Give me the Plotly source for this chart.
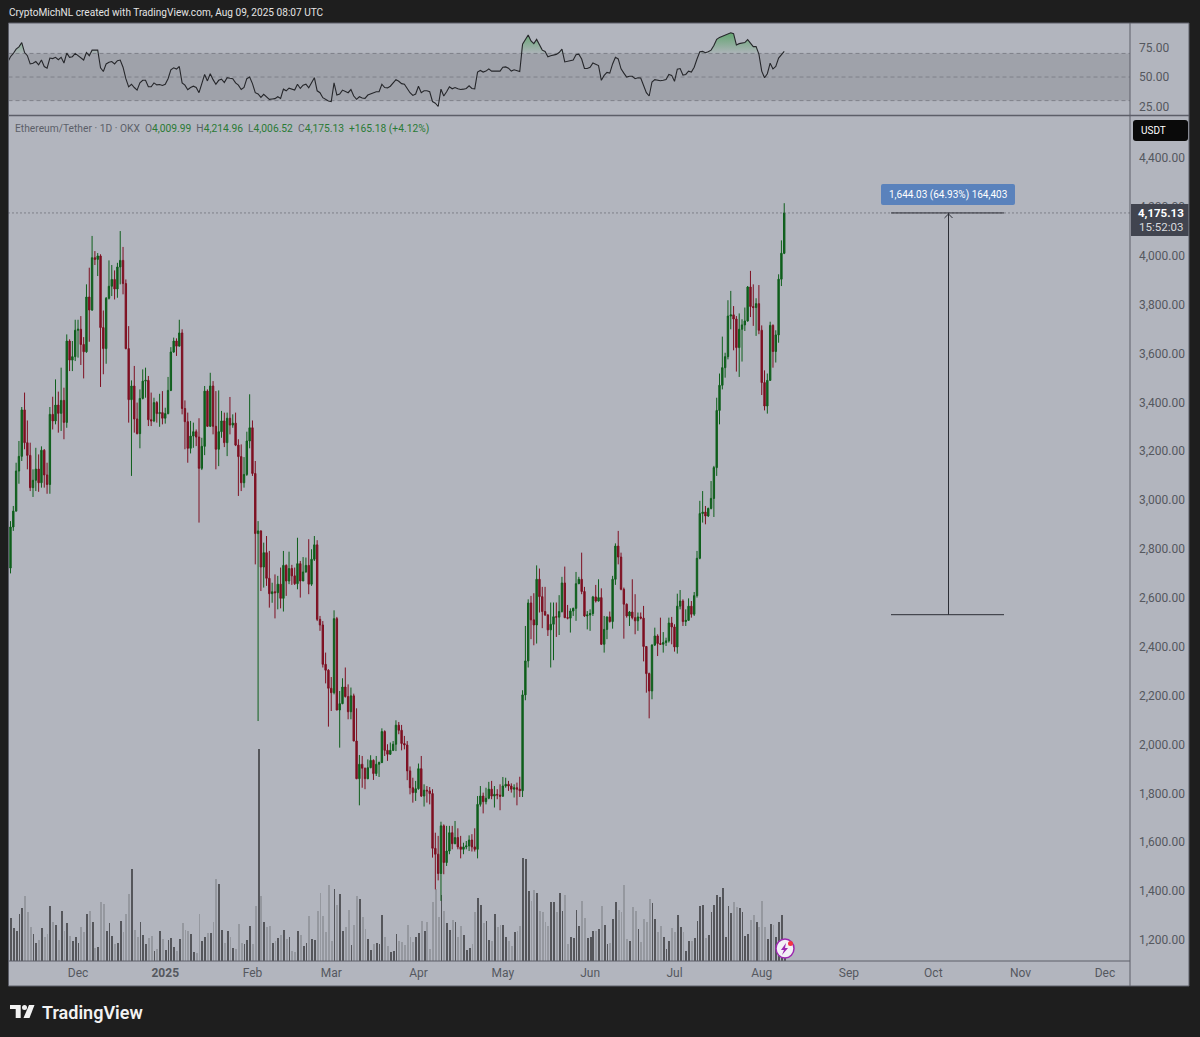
import numpy as np
import pandas as pd
import plotly.graph_objects as go

first_open = 2420

# daily closes, Nov 6 2024 to Aug 9 2025
closes = [2722,
    2890, 2955, 3119, 3179, 3369, 3235, 3183, 3051, 3081, 3127, 3071, 3204, 3103, 3064, 3351, 3324, 3389, 3355, 3408, 3318,
    3651, 3573, 3587, 3695,  # Dec 1 follows
    3699, 3637, 3607, 3831, 3778, 3992, 3985, 3999, 3706, 3620, 3826, 3875, 3903, 3864, 3954, 3981, 3886, 3620, 3411, 3467,
    3332, 3272, 3416, 3487, 3490, 3329, 3324, 3399, 3354, 3358, 3335,
    3354, 3449, 3606, 3651, 3630, 3684, 3375, 3321, 3212, 3262, 3280, 3258, 3130, 3220, 3446, 3302, 3467, 3302, 3208, 3280,
    3324, 3235, 3335, 3307, 3315, 3225, 3178, 3071, 3105, 3242, 3296,
    3109, 2863, 2874, 2726, 2785, 2680, 2617, 2625, 2621, 2656, 2598, 2733, 2669, 2720, 2690, 2658, 2740, 2669, 2706, 2733,
    2656, 2758, 2817, 2512, 2489, 2328, 2304, 2230,
    2212, 2515, 2141, 2167, 2235, 2196, 2134, 2199, 2014, 1860, 1919, 1903, 1860, 1905, 1935, 1881, 1919, 1926, 2053, 1976,
    1960, 1976, 2001, 2079, 2058, 2004, 1998, 1892, 1823, 1803, 1819,
    1901, 1789, 1813, 1810, 1799, 1575, 1551, 1472, 1667, 1517, 1564, 1639, 1594, 1619, 1581, 1571, 1581, 1585, 1609, 1581,
    1571, 1755, 1789, 1766, 1780, 1817, 1789, 1796, 1793, 1788,
    1830, 1837, 1830, 1817, 1823, 1817, 1811, 2203, 2342, 2579, 2510, 2489, 2676, 2605, 2544, 2530, 2469, 2492, 2523, 2521,
    2544, 2661, 2519, 2517, 2546, 2557, 2658, 2676, 2626, 2526, 2530,
    2536, 2604, 2587, 2601, 2410, 2471, 2522, 2503, 2676, 2812, 2767, 2635, 2574, 2526, 2542, 2519, 2506, 2522, 2517, 2401,
    2290, 2219, 2407, 2444, 2413, 2410, 2417, 2424, 2497, 2481,
    2399, 2566, 2587, 2503, 2508, 2566, 2533, 2609, 2762, 2945, 2951, 2935, 2966, 3007, 3133, 3367, 3470, 3542, 3587, 3753,
    3758, 3741, 3624, 3699, 3717, 3733, 3872, 3792, 3788, 3804, 3695,
    3481, 3385, 3490, 3715, 3608, 3676, 3904, 4009.99, 4175.13]

highs = [2760,
    2914, 2976, 3153, 3242, 3381, 3440, 3326, 3235, 3126, 3214, 3187, 3220, 3209, 3153, 3381, 3423, 3494, 3444, 3542, 3460,
    3678, 3658, 3651, 3738,
    3738, 3753, 3667, 3883, 3951, 4081, 4019, 4011, 4006, 3776, 3831, 3981, 3962, 3940, 3971, 4101, 4036, 3903, 3712, 3490,
    3549, 3399, 3453, 3535, 3542, 3508, 3440, 3419, 3405, 3435, 3446,
    3378, 3504, 3626, 3665, 3662, 3738, 3699, 3408, 3358, 3324, 3317, 3289, 3335, 3255, 3467, 3453, 3521, 3487, 3446, 3449,
    3365, 3358, 3358, 3422, 3351, 3358, 3249, 3228, 3176, 3280, 3433,
    3326, 3160, 2914, 2876, 2826, 2853, 2792, 2662, 2696, 2690, 2724, 2792, 2737, 2789, 2735, 2724, 2846, 2751, 2767, 2765,
    2840, 2799, 2853, 2836, 2526, 2505, 2376, 2308,
    2276, 2549, 2522, 2219, 2271, 2315, 2246, 2233, 2208, 2148, 1957, 1953, 1905, 1939, 1956, 1939, 1953, 1930, 2066, 2058,
    2001, 2008, 2014, 2099, 2092, 2080, 2035, 2014, 1910, 1864, 1851,
    1922, 1953, 1837, 1830, 1826, 1817, 1639, 1626, 1684, 1673, 1667, 1667, 1667, 1687, 1657, 1626, 1598, 1605, 1628, 1633,
    1657, 1789, 1830, 1803, 1823, 1847, 1851, 1830, 1817, 1837,
    1867, 1864, 1851, 1841, 1837, 1844, 1868, 2222, 2485, 2594, 2608, 2619, 2733, 2720, 2645, 2645, 2533, 2581, 2581, 2581,
    2611, 2686, 2728, 2571, 2557, 2560, 2706, 2686, 2785, 2645, 2546,
    2553, 2608, 2653, 2676, 2639, 2526, 2523, 2544, 2690, 2823, 2874, 2785, 2642, 2577, 2546, 2676, 2615, 2540, 2540, 2567,
    2403, 2294, 2410, 2478, 2451, 2519, 2460, 2437, 2519, 2522,
    2492, 2617, 2632, 2594, 2553, 2598, 2587, 2624, 2792, 2997, 3037, 2976, 2969, 3078, 3140, 3419, 3518, 3669, 3603, 3818,
    3856, 3794, 3753, 3764, 3740, 3788, 3876, 3938, 3883, 3826, 3880,
    3715, 3531, 3518, 3730, 3719, 3695, 3924, 4063, 4214.96]

lows = [2405,
    2700, 2874, 2953, 3067, 3160, 3208, 3126, 3037, 3013, 3037, 3034, 3051, 3051, 3026, 3026, 3289, 3310, 3276, 3283, 3249,
    3296, 3528, 3528, 3569,
    3583, 3553, 3498, 3603, 3648, 3774, 3962, 3917, 3463, 3515, 3558, 3821, 3835, 3821, 3828, 3883, 3842, 3617, 3317, 3099,
    3276, 3269, 3212, 3412, 3419, 3303, 3303, 3319, 3317, 3300, 3310,
    3313, 3351, 3446, 3603, 3590, 3630, 3351, 3208, 3153, 3191, 3214, 3221, 2908, 3123, 3184, 3299, 3299, 3269, 3126, 3139,
    3255, 3217, 3180, 3269, 3296, 3221, 3017, 3037, 3051, 3099, 3212,
    3099, 2737, 2096, 2628, 2642, 2649, 2560, 2580, 2516, 2553, 2557, 2544, 2608, 2656, 2653, 2653, 2635, 2601, 2683, 2703,
    2615, 2649, 2751, 2505, 2465, 2315, 2250, 2073,
    2137, 2205, 2140, 1987, 2165, 2192, 2103, 2103, 2014, 1858, 1751, 1823, 1817, 1858, 1903, 1855, 1871, 1867, 1924, 1953,
    1933, 1957, 1973, 1973, 2042, 1976, 1980, 1854, 1796, 1762, 1769,
    1815, 1785, 1746, 1762, 1755, 1537, 1407, 1444, 1360, 1469, 1503, 1551, 1571, 1592, 1571, 1534, 1551, 1571, 1564, 1562,
    1562, 1534, 1746, 1718, 1755, 1776, 1776, 1742, 1776, 1731,
    1787, 1823, 1810, 1803, 1783, 1751, 1785, 1785, 2181, 2315, 2431, 2406, 2413, 2540, 2476, 2526, 2444, 2315, 2345, 2440,
    2448, 2540, 2517, 2512, 2458, 2526, 2506, 2656, 2615, 2522, 2471,
    2465, 2526, 2581, 2585, 2407, 2376, 2431, 2499, 2474, 2653, 2737, 2631, 2433, 2519, 2485, 2512, 2451, 2465, 2512, 2340,
    2212, 2107, 2185, 2403, 2362, 2407, 2376, 2403, 2417, 2410,
    2380, 2372, 2553, 2485, 2485, 2506, 2519, 2526, 2601, 2758, 2908, 2901, 2931, 2962, 2931, 3099, 3310, 3453, 3501, 3576,
    3699, 3613, 3526, 3504, 3567, 3692, 3730, 3749, 3713, 3672, 3679,
    3430, 3367, 3354, 3488, 3542, 3563, 3644, 3876, 4006.52]

# volume, no scale shown on the chart so these are relative units
volumes = [150,
    128, 98, 89, 140, 159, 196, 147, 101, 80, 55, 63, 98, 73, 80, 166, 116, 108, 63, 151, 90,
    113, 75, 60, 71, 53, 101, 87, 140, 150, 116, 40, 42, 176, 170, 90, 113, 75, 51, 55, 119,
    86, 140, 201, 276, 93, 73, 116, 78, 51, 70, 75, 30, 35, 89, 65, 33, 63, 68, 43, 30,
    65, 113, 93, 90, 80, 28, 23, 140, 60, 73, 83, 83, 116, 246, 232, 93, 55, 89, 73, 38,
    35, 110, 53, 50, 63, 106, 50, 164, 636, 196, 116, 101, 104, 55, 60, 70, 78, 93, 66, 73,
    30, 28, 90, 78, 45, 53, 136, 65, 63, 151, 203, 136, 86, 229, 60, 215, 168, 201, 89, 101,
    153, 48, 108, 196, 186, 133, 95, 65, 33, 51, 55, 50, 138, 71, 45, 28, 30, 80, 60,
    58, 48, 108, 71, 56, 73, 83, 119, 90, 116, 36, 176, 215, 131, 199, 149, 113, 93, 123, 116,
    73, 106, 78, 33, 38, 50, 146, 189, 169, 113, 121, 63, 60, 141, 101, 108, 108, 73, 60, 45,
    86, 90, 104, 308, 305, 209, 179, 212, 203, 151, 146, 116, 104, 176, 176, 146, 203, 151, 199, 50,
    71, 68, 153, 106, 181, 128, 68, 71, 90, 90, 95, 166, 108, 50, 53, 125, 176, 153, 146, 229,
    65, 60, 161, 149, 95, 56, 125, 116, 186, 174, 125, 88, 106, 73, 36, 60, 98, 88, 138, 101,
    86, 30, 60, 60, 68, 121, 166, 169, 68, 78, 146, 169, 199, 191, 219, 71, 164, 144, 176, 161,
    158, 146, 75, 80, 123, 138, 116, 101, 179, 101, 65, 110, 108, 71, 116, 138, 40]

rsi_values = [
    62.5, 67.2, 70, 73.6, 75.6, 79.2, 70.8, 68.1, 61.1, 61.7, 63.1, 60.3, 64.4, 58.9, 57.5, 66.1, 65.6, 66.7, 64.7, 66.7,
    61.9, 70.3, 66.7, 67.2, 70, 68.1, 66.1, 64.4, 70.8, 68.1, 72.8, 72.8, 72.8, 57.8, 54.7, 61.1, 62.5, 63.1, 61.1, 63.9,
    64.4, 58.3, 48.6, 41.7, 43.9, 41.1, 38.9, 45, 47.2, 47.2, 41.7, 41.7, 45, 43.3, 43.6, 42.8, 43.9, 48.6, 56.1, 57.8,
    56.7, 58.9, 45, 43.1, 39.2, 41.1, 42.2, 41.1, 36.7, 44.4, 52.2, 46.7, 52.8, 47.8, 43.9, 47.2, 48.1, 45.3, 49.4, 48.9,
    48.6, 45, 43.1, 39.4, 41.1, 48.6, 50, 44.4, 36.7, 35.6, 32.8, 35.3, 32.8, 31.1, 31.4, 31.7, 33.3, 31.9, 39.7, 38.3,
    40.6, 39.7, 38.9, 43.9, 40.3, 43.1, 43.9, 40.8, 45.8, 49.4, 38.3, 36.7, 32.5, 31.1, 29.7, 29.2, 45, 34.7, 35.6, 38.9,
    37.8, 36.7, 39.4, 33.9, 31.1, 33.3, 32.2, 31.9, 34.7, 35.6, 36.7, 37.5, 37.5, 43.9, 41.1, 40.8, 42.2, 45, 47.8, 46.4,
    44.4, 43.9, 40.3, 36.7, 34.4, 35.6, 42.2, 36.7, 38.3, 38.3, 37.5, 29.2, 27.8, 25, 39.7, 33.9, 37.5, 41.7, 40, 41.1,
    40, 39.4, 39.7, 40.3, 42.5, 40.3, 40, 54.2, 55.6, 54.2, 55, 56.9, 55, 55, 55, 55, 58.3, 58.6, 57.5, 55,
    56.1, 55.6, 54.7, 77.8, 81.9, 85.6, 80.6, 78.3, 81.9, 77.8, 72.8, 71.7, 67.2, 68.1, 68.6, 69.2, 70.8, 73.6, 62.8, 63.3,
    63.6, 64.4, 68.9, 69.4, 65.3, 57.2, 57.2, 58.3, 61.9, 60.5, 59.7, 47.2, 51.4, 53.9, 53.3, 61.1, 66.7, 65.3, 56.9, 53.3,
    50, 50.6, 50.6, 48.6, 49.4, 49.2, 43.1, 36.7, 33.9, 45.8, 47.8, 47.2, 46.9, 47.2, 47.8, 52.2, 51.4, 46.4, 56.7, 57.2,
    51.7, 52.2, 55, 54.2, 58.3, 65.3, 71.4, 71.7, 70.6, 71.4, 72.8, 76.7, 81.9, 83.6, 84.7, 85.6, 86.9, 87.5, 86.7, 77.2,
    78.3, 78.6, 79.2, 81.7, 78.3, 75.8, 75.8, 69.4, 55, 49.4, 52.8, 61.7, 56.9, 58.9, 66.1, 68.6, 71.7]

month_ticks = ["2024-12-01", "2025-01-01", "2025-02-01", "2025-03-01", "2025-04-01", "2025-05-01", "2025-06-01",
               "2025-07-01", "2025-08-01", "2025-09-01", "2025-10-01", "2025-11-01", "2025-12-01"]
month_labels = ["Dec", "<b>2025</b>", "Feb", "Mar", "Apr", "May", "Jun", "Jul", "Aug", "Sep", "Oct", "Nov", "Dec"]
price_ticks = [1200, 1400, 1600, 1800, 2000, 2200, 2400, 2600, 2800, 3000, 3200, 3400, 3600, 3800, 4000, 4200, 4400]
rsi_ticks = [25, 50, 75]

last_price = 4175.13
measure_low = 2531.10

dates = pd.date_range("2024-11-06", periods=len(closes), freq="D")
opens = [first_open] + closes[:-1]

W, H = 1200, 1037
PANEL = "#b2b5be"
DARK = "#1e1e1e"
EDGE = "#5c5e68"
TICK = "#55585f"
UP = "#0f5f1c"
DOWN = "#7e1022"
FONT = "Roboto"


def px(x):
    return x / W


def py(y):
    return 1 - y / H


def poly(points):
    return "M" + " L".join(f"{px(x):.5f},{py(y):.5f}" for x, y in points) + " Z"


def rounded(x0, y0, x1, y1, r):
    return (f"M{px(x0 + r):.5f},{py(y0):.5f} L{px(x1 - r):.5f},{py(y0):.5f} Q{px(x1):.5f},{py(y0):.5f} {px(x1):.5f},{py(y0 + r):.5f} "
            f"L{px(x1):.5f},{py(y1 - r):.5f} Q{px(x1):.5f},{py(y1):.5f} {px(x1 - r):.5f},{py(y1):.5f} "
            f"L{px(x0 + r):.5f},{py(y1):.5f} Q{px(x0):.5f},{py(y1):.5f} {px(x0):.5f},{py(y1 - r):.5f} "
            f"L{px(x0):.5f},{py(y0 + r):.5f} Q{px(x0):.5f},{py(y0):.5f} {px(x0 + r):.5f},{py(y0):.5f} Z")


def label(x, y, text, size=11, color="#ffffff", anchor="left", **kw):
    return dict(xref="paper", yref="paper", x=px(x), y=py(y), text=text, showarrow=False, xanchor=anchor,
                yanchor="middle", borderpad=0, font=dict(family=FONT, size=size, color=color, **kw))


fig = go.Figure()

# volume first so the candles sit on top
fig.add_trace(go.Bar(x=dates, y=volumes, yaxis="y", width=0.3 * 86400000,
                     marker=dict(color=["#55565b" if c >= o else "#95989f" for o, c in zip(opens, closes)], line_width=0)))
fig.add_trace(go.Candlestick(x=dates, open=opens, high=highs, low=lows, close=closes, yaxis="y2",
                             increasing=dict(line=dict(color=UP, width=1), fillcolor=UP),
                             decreasing=dict(line=dict(color=DOWN, width=1), fillcolor=DOWN),
                             whiskerwidth=0))

# rsi pane
fig.add_trace(go.Scatter(x=dates, y=[70] * len(dates), xaxis="x2", yaxis="y3", mode="lines", line_width=0))
fig.add_trace(go.Scatter(x=dates, y=np.maximum(rsi_values, 70), xaxis="x2", yaxis="y3", mode="lines", line_width=0,
                         fill="tonexty",
                         fillgradient=dict(type="vertical", start=70, stop=88,
                                           colorscale=[[0, "rgba(76,160,90,0.05)"], [1, "rgba(76,160,90,0.8)"]])))
fig.add_trace(go.Scatter(x=dates, y=rsi_values, xaxis="x2", yaxis="y3", mode="lines",
                         line=dict(color="#26272b", width=1.1)))

shapes = [
    dict(type="rect", xref="paper", yref="paper", layer="below", x0=px(8.5), x1=px(1189), y0=py(23), y1=py(986),
         fillcolor=PANEL, line_width=0),
    dict(type="rect", xref="paper", yref="y3", layer="below", x0=px(8.5), x1=px(1130), y0=30, y1=70,
         fillcolor="#9fa2aa", line_width=0),
]
for level in [30, 50, 70]:
    shapes.append(dict(type="line", xref="paper", yref="y3", layer="below", x0=px(8.5), x1=px(1130), y0=level, y1=level,
                       line=dict(color="#7e8089", width=1, dash="4px,3px")))

# panel separators
for x0, y0, x1, y1, w in [(1130, 23, 1130, 986, 1), (8.5, 115.5, 1189, 115.5, 1.5), (8.5, 961, 1130, 961, 1),
                          (8.5, 23, 8.5, 986, 1), (8.5, 986, 1189, 986, 1), (1189, 23, 1189, 986, 1), (8.5, 23, 1189, 23, 1)]:
    shapes.append(dict(type="line", xref="paper", yref="paper", x0=px(x0), x1=px(x1), y0=py(y0), y1=py(y1),
                       line=dict(color=EDGE, width=w)))

# last price line
shapes.append(dict(type="line", xref="paper", yref="y2", x0=px(8.5), x1=px(1130), y0=last_price, y1=last_price,
                   line=dict(color="#4a4c54", width=1, dash="1px,3px")))

# measure tool
measure_line = dict(color="#2c2e36", width=1)
for level in [last_price, measure_low]:
    shapes.append(dict(type="line", xref="paper", yref="y2", x0=px(891), x1=px(1004), y0=level, y1=level, line=measure_line))
shapes.append(dict(type="line", xref="paper", yref="y2", x0=px(948.5), x1=px(948.5), y0=measure_low, y1=last_price, line=measure_line))
shapes.append(dict(type="path", xref="paper", yref="paper", path=f"M{px(944.5):.5f},{py(218):.5f} L{px(948.5):.5f},{py(214):.5f} L{px(952.5):.5f},{py(218):.5f}",
                   line=measure_line))
shapes.append(dict(type="path", xref="paper", yref="paper", path=rounded(881, 184, 1015, 205, 2), fillcolor="#5a82bc", line_width=0))

# price tag and currency button
shapes.append(dict(type="rect", xref="paper", yref="paper", x0=px(1131), x1=px(1188.5), y0=py(204), y1=py(236),
                   fillcolor="#41444f", line_width=0))
shapes.append(dict(type="path", xref="paper", yref="paper", path=rounded(1133, 120, 1188, 141, 3), fillcolor="#0a0a0a", line_width=0))

# lightning badge
shapes.append(dict(type="circle", xref="paper", yref="paper", x0=px(776), x1=px(794), y0=py(939), y1=py(958),
                   fillcolor="#f3f0f6", line=dict(color="#9c27b0", width=1.5)))
shapes.append(dict(type="path", xref="paper", yref="paper", fillcolor="#9c27b0", line_width=0,
                   path=poly([(786, 943), (781, 950), (784, 950), (782, 955), (788, 948), (785, 948)])))
shapes.append(dict(type="circle", xref="paper", yref="paper", x0=px(788), x1=px(793), y0=py(941), y1=py(946),
                   fillcolor="#f23645", line_width=0))

# TradingView logo
shapes.append(dict(type="path", xref="paper", yref="paper", fillcolor="#f2f2f2", line_width=0,
                   path=poly([(10, 1005), (20.7, 1005), (20.7, 1018), (15.7, 1018), (15.7, 1009), (10, 1009)])))
shapes.append(dict(type="circle", xref="paper", yref="paper", x0=px(22), x1=px(27), y0=py(1005), y1=py(1010),
                   fillcolor="#f2f2f2", line_width=0))
shapes.append(dict(type="path", xref="paper", yref="paper", fillcolor="#f2f2f2", line_width=0,
                   path=poly([(29, 1005), (34.5, 1005), (29.5, 1018), (23.5, 1018)])))

green = "#2a7a35"
grey = "#5c5f69"
legend_text = (f"<span style='color:{grey}'>Ethereum/Tether · 1D · OKX</span>"
               f"  <span style='color:{grey}'>O</span>4,009.99  <span style='color:{grey}'>H</span>4,214.96"
               f"  <span style='color:{grey}'>L</span>4,006.52  <span style='color:{grey}'>C</span>4,175.13"
               f"  +165.18 (+4.12%)")

annotations = [
    label(7.5, 12, "CryptoMichNL created with TradingView.com, Aug 09, 2025 08:07 UTC", size=10.1, color="#e4e4e4"),
    label(13.5, 128, legend_text, size=10.25, color=green),
    label(948, 194.5, "1,644.03 (64.93%) 164,403", size=10, anchor="center"),
    label(1139.5, 130.5, "USDT", size=10),
    label(1161, 213, "<b>4,175.13</b>", size=11.5, anchor="center"),
    label(1161, 227, "15:52:03", size=11.5, color="#d8d9dd", anchor="center"),
    label(41, 1012, "TradingView", size=18, color="#f2f2f2", weight=600),
]

tick_font = dict(family=FONT, size=12, color=TICK)
x_range = ["2024-11-06 07:00", "2025-12-09 21:30"]
fig.update_layout(
    width=W, height=H, margin=dict(l=0, r=0, t=0, b=0), autosize=False,
    paper_bgcolor=DARK, plot_bgcolor="rgba(0,0,0,0)", showlegend=False,
    xaxis=dict(domain=[px(8.5), px(1130)], range=x_range, type="date", rangeslider_visible=False, showgrid=False,
               zeroline=False, tickmode="array", tickvals=month_ticks, ticktext=month_labels, tickfont=tick_font,
               tickangle=0, ticks="", anchor="y", ticklabelstandoff=3),
    xaxis2=dict(domain=[px(8.5), px(1130)], range=x_range, type="date", visible=False, anchor="y3"),
    yaxis=dict(domain=[py(961), py(116)], range=[0, 2535], visible=False, fixedrange=True),
    yaxis2=dict(domain=[py(961), py(116)], range=[1114, 4571.8], overlaying="y", side="right", anchor="x", showgrid=False,
                zeroline=False, tickmode="array", tickvals=price_ticks, tickformat=",.2f", tickfont=tick_font, ticks="",
                ticklabelstandoff=8),
    yaxis3=dict(domain=[py(115), py(23)], range=[17.8, 95.8], side="right", anchor="x2", showgrid=False, zeroline=False,
                tickmode="array", tickvals=rsi_ticks, tickformat=".2f", tickfont=tick_font, ticks="", ticklabelstandoff=8),
    shapes=shapes, annotations=annotations, bargap=0,
)

fig.write_html("out.html", config=dict(displayModeBar=False),
               post_script="document.body.style.margin='0';")
